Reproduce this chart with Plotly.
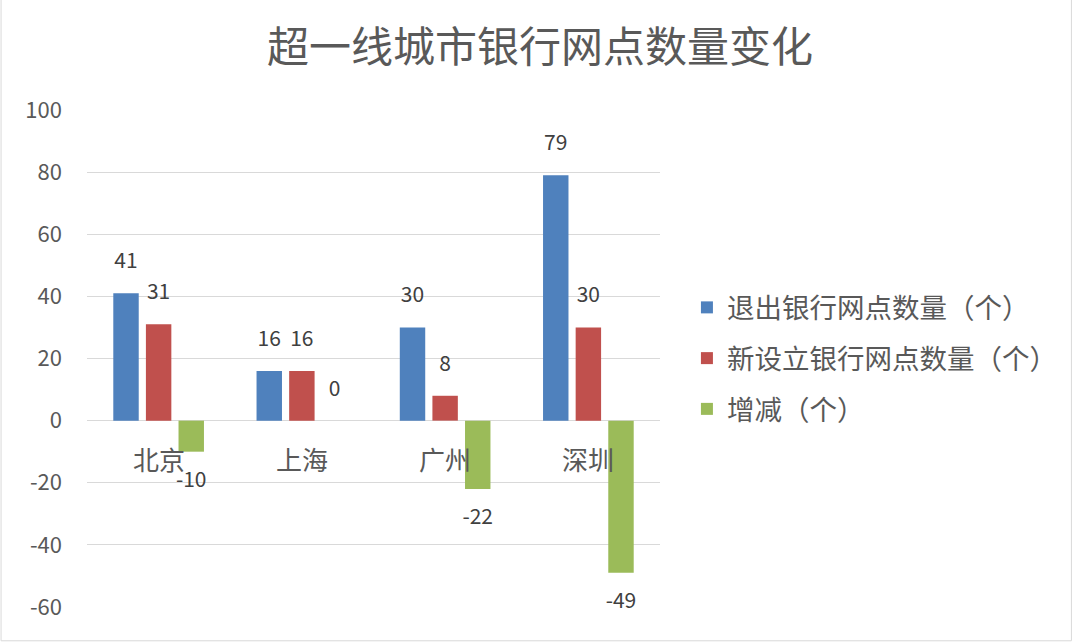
import plotly.graph_objects as go

# 超一线城市银行网点数量
cities = ['北京', '上海', '广州', '深圳']
exit_counts = [41, 16, 30, 79]
new_counts = [31, 16, 8, 30]
net_change = [-10, 0, -22, -49]
series_names = ['退出银行网点数量（个）', '新设立银行网点数量（个）', '增减（个）']
y_ticks = [-60, -40, -20, 0, 20, 40, 60, 80, 100]

FONT = 'Noto Sans CJK SC, Noto Sans, sans-serif'
TEXT = '#595959'
COLORS = ['#4F81BD', '#C0504D', '#9BBB59']
GAP = 0.317

fig = go.Figure()
all_series = [exit_counts, new_counts, net_change]
for name, vals, color in zip(series_names, all_series, COLORS):
    fig.add_trace(go.Bar(
        x=cities, y=vals, name=name, marker=dict(color=color, line=dict(width=0)),
        legendgroup=name, offsetgroup=name, alignmentgroup='a',
    ))

# data labels as grouped scatter text so they sit a bit off the bar end like excel
for name, vals in zip(series_names, all_series):
    fig.add_trace(go.Scatter(
        x=cities, y=vals, mode='markers+text', text=[str(v) for v in vals],
        textposition=['top center' if v >= 0 else 'bottom center' for v in vals],
        marker=dict(size=30, opacity=0), textfont=dict(size=21, color='#404040', family=FONT),
        offsetgroup=name, alignmentgroup='a', showlegend=False, hoverinfo='skip', cliponaxis=False,
    ))

# category labels sit on the zero line like in excel
for c in cities:
    fig.add_annotation(x=c, y=0, xref='x', yref='y', text=c, showarrow=False,
                       yanchor='top', yshift=-17, font=dict(size=26, color=TEXT, family=FONT))

fig.update_layout(
    width=1080, height=644,
    paper_bgcolor='white', plot_bgcolor='white',
    margin=dict(l=87, r=420, t=110, b=37, autoexpand=False),
    title=dict(text='超一线城市银行网点数量变化', x=0.5, xanchor='center', y=0.927, yanchor='middle',
               font=dict(size=42, color=TEXT, family=FONT)),
    barmode='group', bargap=GAP, bargroupgap=0.22,
    scattermode='group', scattergap=GAP,
    showlegend=True,
    legend=dict(x=1.047, y=0.5, xanchor='left', yanchor='middle', traceorder='grouped',
                tracegroupgap=12, font=dict(size=27.5, color=TEXT, family=FONT),
                itemwidth=30, bgcolor='rgba(0,0,0,0)'),
)
fig.update_xaxes(showticklabels=False, showgrid=False, showline=False, ticks='')
fig.update_yaxes(range=[-60, 100], tickvals=y_ticks, ticktext=[str(t) for t in y_ticks],
                 showgrid=True, gridcolor='#d9d9d9', gridwidth=1,
                 zeroline=True, zerolinecolor='#d9d9d9', zerolinewidth=1, showline=False,
                 tickfont=dict(size=22, color=TEXT, family=FONT), ticklabelstandoff=24)
# chart frame
fig.add_shape(type='rect', xref='paper', yref='paper', x0=-0.15, x1=1.718, y0=-0.068, y1=1.3,
              line=dict(color='#d9d9d9', width=1))

# drop the default body margin so the figure starts at the window corner
fig.write_html("out.html", config={'displayModeBar': False},
               post_script="document.body.style.margin='0';")
